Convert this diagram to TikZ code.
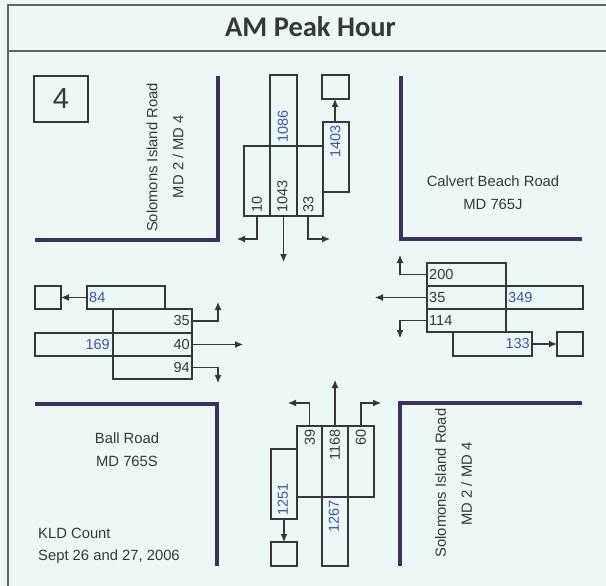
\documentclass[tikz,border=0pt]{standalone}
\usepackage{fontspec}
\setmainfont{Liberation Sans}
\newfontfamily\titlefont{Carlito}
\usetikzlibrary{arrows.meta}
\definecolor{bgc}{RGB}{236,248,248}
\definecolor{roadc}{RGB}{60,50,95}
\definecolor{linec}{RGB}{55,55,55}
\definecolor{framec}{RGB}{100,100,100}
\definecolor{txtc}{RGB}{55,55,55}
\definecolor{bluec}{RGB}{65,85,160}
\tikzset{
  bx/.style={draw=linec, line width=1.2pt, inner sep=0pt, outer sep=0pt},
  road/.style={draw=roadc, line width=4pt},
  frame/.style={draw=framec, line width=1.4pt},
  arr/.style={draw=linec, line width=1.1pt, -{Latex[length=8pt,width=7pt]}},
  num/.style={text=txtc, inner sep=0pt, font=\fontsize{14.5}{17}\selectfont},
  tot/.style={num, text=bluec},
  lbl/.style={text=txtc, inner sep=0pt, font=\fontsize{14.8}{17}\selectfont},
}
\newcommand{\mybox}[5]{%
  \pgfmathsetmacro\bw{#4-#2}\pgfmathsetmacro\bh{#5-#3}%
  \node[bx, minimum width=\bw pt, minimum height=\bh pt] (#1) at ({(#2+#4)/2},{(#3+#5)/2}) {};}
\begin{document}
\begin{tikzpicture}[x=1pt,y=-1pt]
\fill[bgc] (0,0) rectangle (606,586);
\useasboundingbox (0,0) rectangle (606,586);
% frame
\draw[frame] (606,5) -- (8,5) -- (8,586);
\draw[frame] (8,51) -- (606,51);
\node[text=txtc, anchor=base, font=\titlefont\bfseries\fontsize{28.5}{32}\selectfont] (title) at (310.5,37) {AM Peak Hour};
% roads
\draw[road] (218,76) -- (218,240) -- (35,240);
\draw[road] (401,76) -- (401,239) -- (582,239);
\draw[road] (35,404) -- (217,404) -- (217,566);
\draw[road] (400,566) -- (400,403) -- (582,403);
% id box
\node[bx, minimum width=54pt, minimum height=46pt, text=txtc, font=\fontsize{29}{32}\selectfont] (idbox) at (61,99) {4};
% road labels
\node[lbl, rotate=90] (nwroad) at (152,157.5) {Solomons Island Road};
\node[lbl, rotate=90] (nwmd) at (178,156.5) {MD 2 / MD 4};
\node[lbl, rotate=90] (seroad) at (440.5,483) {Solomons Island Road};
\node[lbl, rotate=90] (semd) at (466.5,484) {MD 2 / MD 4};
\node[lbl, anchor=base] (eroad) at (493,186) {Calvert Beach Road};
\node[lbl, anchor=base] (emd) at (493,209) {MD 765J};
\node[lbl, anchor=base] (wroad) at (127,443) {Ball Road};
\node[lbl, anchor=base] (wmd) at (127,466) {MD 765S};
\node[lbl, anchor=base west] (kld) at (38,538) {KLD Count};
\node[lbl, anchor=base west] (date) at (38,560) {Sept 26 and 27, 2006};
% north approach
\mybox{n1086}{270}{75}{297}{146}
\mybox{n10}{244}{146}{270}{216}
\mybox{n1043}{270}{146}{297}{216}
\mybox{n33}{297}{146}{323}{216}
\mybox{n1403}{323}{122}{349}{192}
\mybox{nsq}{322}{75}{349}{99}
\node[num, rotate=90, anchor=west] (t10) at (257,213) {10};
\node[num, rotate=90, anchor=west] (t1043) at (282.5,213) {1043};
\node[num, rotate=90, anchor=west] (t33) at (308.5,213) {33};
\node[tot, rotate=90, anchor=west] (t1086) at (283,143) {1086};
\node[tot, rotate=90, anchor=east] (t1403) at (335.5,125) {1403};
\coordinate (n10e) at (237,239);
\coordinate (n1043e) at (283.5,262);
\coordinate (n33e) at (330,239);
\draw[arr] (n10.south) |- (n10e);
\draw[arr] (n1043.south) -- (n1043e);
\draw[arr] ([xshift=-2pt]n33.south) |- (n33e);
\draw[arr] ([xshift=-1pt]n1403.north) -- ([xshift=-0.5pt]nsq.south);
% west approach
\mybox{wsq}{35}{286}{61}{309}
\mybox{w84}{87}{286}{165}{309}
\mybox{w35}{113}{309}{192}{333}
\mybox{w40}{113}{333}{192}{356}
\mybox{w94}{113}{356}{192}{379}
\mybox{w169}{35}{333}{113}{356}
\node[tot, anchor=west] (t84) at (89,297.5) {84};
\node[num, anchor=east] (tw35) at (190,321) {35};
\node[num, anchor=east] (tw40) at (190,344.5) {40};
\node[num, anchor=east] (tw94) at (190,367.5) {94};
\node[tot, anchor=east] (t169) at (110,344.5) {169};
\coordinate (w35e) at (218,302);
\coordinate (w40e) at (243,344.5);
\coordinate (w94e) at (218,383);
\draw[arr] (w84.west) -- (wsq.east);
\draw[arr] (w35.east) -| (w35e);
\draw[arr] (w40.east) -- (w40e);
\draw[arr] (w94.east) -| (w94e);
% east approach
\mybox{e200}{427}{263}{506}{286}
\mybox{e35}{427}{286}{506}{309}
\mybox{e114}{427}{309}{506}{332}
\mybox{e349}{506}{286}{583}{309}
\mybox{e133}{453}{332}{532}{356}
\mybox{esq}{557}{332}{583}{356}
\node[num, anchor=west] (te200) at (429,274.5) {200};
\node[num, anchor=west] (te35) at (429,297.5) {35};
\node[num, anchor=west] (te114) at (429,320.5) {114};
\node[tot, anchor=west] (te349) at (508,297.5) {349};
\node[tot, anchor=east] (te133) at (530,344) {133};
\coordinate (e200e) at (400,255);
\coordinate (e35e) at (375,297.5);
\coordinate (e114e) at (400,338);
\draw[arr] (e200.west) -| (e200e);
\draw[arr] (e35.west) -- (e35e);
\draw[arr] (e114.west) -| (e114e);
\draw[arr] (e133.east) -- (esq.west);
% south approach
\mybox{s39}{297}{426}{322}{497}
\mybox{s1168}{322}{426}{348}{497}
\mybox{s60}{348}{426}{374}{497}
\mybox{s1267}{322}{497}{348}{566}
\mybox{s1251}{271}{449}{297}{519}
\mybox{ssq}{271}{542}{297}{566}
\node[num, rotate=90, anchor=east] (ts39) at (310,429) {39};
\node[num, rotate=90, anchor=east] (ts1168) at (335,429) {1168};
\node[num, rotate=90, anchor=east] (ts60) at (361,429) {60};
\node[tot, rotate=90, anchor=west] (ts1251) at (283,516) {1251};
\node[tot, rotate=90, anchor=east] (ts1267) at (334,500) {1267};
\coordinate (s39e) at (288,403);
\coordinate (s1168e) at (335,380);
\coordinate (s60e) at (381,403);
\draw[arr] (s39.north) |- (s39e);
\draw[arr] (s1168.north) -- (s1168e);
\draw[arr] (s60.north) |- (s60e);
\draw[arr] (s1251.south) -- (ssq.north);
\end{tikzpicture}
\end{document}
